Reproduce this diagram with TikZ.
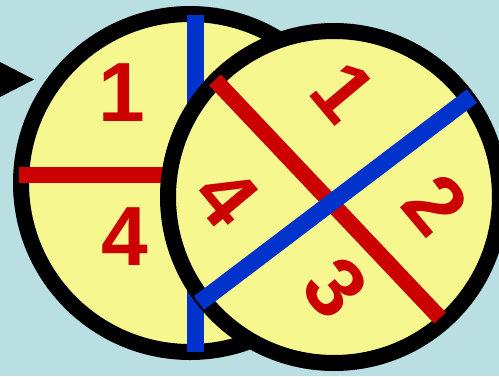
\documentclass[tikz,border=0pt]{standalone}
\usepackage{fontspec}
\setmainfont{Liberation Sans}
\definecolor{bg}{RGB}{186,223,227}
\definecolor{disc}{RGB}{247,247,143}
\definecolor{redline}{RGB}{204,0,0}
\definecolor{blueline}{RGB}{0,51,204}
\tikzset{
  discstyle/.style={draw=black, line width=16pt, fill=disc},
  redbar/.style={draw=redline, line width=16pt},
  bluebar/.style={draw=blueline, line width=17pt},
  digit/.style={text=redline, inner sep=0pt, font=\fontsize{84}{84}\selectfont\bfseries},
}
\begin{document}
\begin{tikzpicture}[x=1pt,y=-1pt]
\fill[bg] (0,0) rectangle (499,376);
\useasboundingbox (0,0) rectangle (499,376);
% pointer triangle
\coordinate (ta) at (0,62);
\coordinate (tb) at (34,79.5);
\coordinate (tc) at (0,97);
\fill[black] (ta) -- (tb) -- (tc) -- cycle;
% left disc
\coordinate (lc) at (190,183);
\draw[discstyle] (lc) circle[radius=169];
\coordinate (lbt) at (195.5,15);
\coordinate (lbb) at (195.5,352);
\coordinate (lrl) at (19,175);
\coordinate (lrr) at (300,175);
\draw[bluebar] (lbt) -- (lbb);
\draw[redbar] (lrl) -- (lrr);
\node[digit] (l1) at (122,93) {1};
\node[digit] (l4) at (125,237) {4};
% right disc
\coordinate (rc) at (334,197);
\draw[discstyle] (rc) circle[radius=166];
\coordinate (rra) at (215,80);
\coordinate (rrb) at (440,318);
\coordinate (rba) at (199,303);
\coordinate (rbb) at (472,96);
\draw[redbar] (rra) -- (rrb);
\draw[bluebar] (rba) -- (rbb);
\node[digit, rotate=-50] (r1) at (344,92) {1};
\node[digit, rotate=-50] (r2) at (436,205) {2};
\node[digit, rotate=-50] (r3) at (336,288) {3};
\node[digit, rotate=-50] (r4) at (227,197) {4};
\end{tikzpicture}
\end{document}
